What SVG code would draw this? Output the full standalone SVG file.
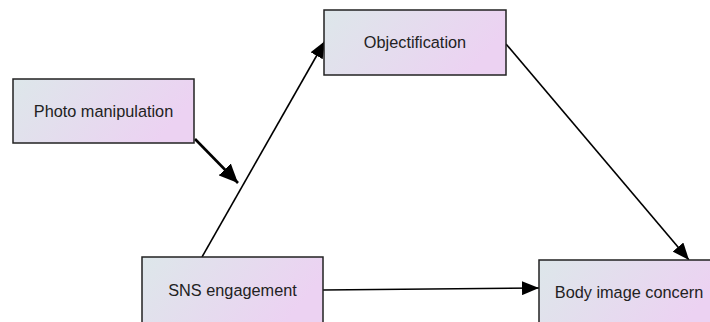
<svg xmlns="http://www.w3.org/2000/svg" width="710" height="322" viewBox="0 0 710 322">
  <defs>
    <linearGradient id="boxFill" x1="0" y1="0" x2="1" y2="0.3">
      <stop offset="0" stop-color="#dde7ea"/>
      <stop offset="1" stop-color="#ecd2f2"/>
    </linearGradient>
    <marker id="arrowM" viewBox="0 0 10 10" refX="10" refY="5" markerWidth="17" markerHeight="14" markerUnits="userSpaceOnUse" orient="auto" preserveAspectRatio="none">
      <path d="M0,0 L10,5 L0,10 z" fill="#000"/>
    </marker>
    <marker id="arrowL" viewBox="0 0 10 10" refX="10" refY="5" markerWidth="19" markerHeight="17" markerUnits="userSpaceOnUse" orient="auto" preserveAspectRatio="none">
      <path d="M0,0 L10,5 L0,10 z" fill="#000"/>
    </marker>
  </defs>
  <style>
    .box { fill: url(#boxFill); stroke: #222; stroke-width: 1.5; }
    .label { font-family: "Liberation Sans", Arial, sans-serif; font-size: 16.3px; fill: #222; text-anchor: middle; dominant-baseline: central; }
    .edge { stroke: #000; stroke-width: 1.6; fill: none; marker-end: url(#arrowM); }
    .edge.heavy { stroke-width: 2.6; marker-end: url(#arrowL); }
  </style>

  <g id="connectors">
    <line class="edge heavy" x1="195" y1="139" x2="238" y2="183"/>
    <line class="edge" x1="202" y1="257" x2="325" y2="41"/>
    <line class="edge" x1="506" y1="44" x2="689" y2="260"/>
    <line class="edge" x1="323" y1="290" x2="539" y2="288"/>
  </g>

  <g id="photo-manipulation">
    <rect class="box" x="13" y="79" width="181" height="64"/>
    <text class="label" x="103.5" y="111">Photo manipulation</text>
  </g>

  <g id="objectification">
    <rect class="box" x="324" y="10" width="182" height="65"/>
    <text class="label" x="415" y="42">Objectification</text>
  </g>

  <g id="sns-engagement">
    <rect class="box" x="142" y="257" width="181" height="66"/>
    <text class="label" x="232.5" y="290">SNS engagement</text>
  </g>

  <g id="body-image-concern">
    <rect class="box" x="539" y="260" width="182" height="66"/>
    <text class="label" x="629" y="292">Body image concern</text>
  </g>
</svg>
